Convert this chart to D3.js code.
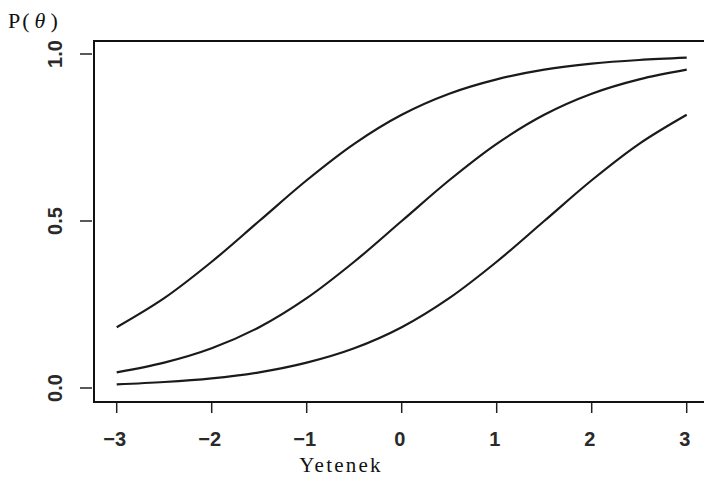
<!DOCTYPE html>
<html><head><meta charset="utf-8">
<script src="https://cdn.jsdelivr.net/npm/d3@7"></script>
<style>body{margin:0;background:#fff}svg{display:block}</style>
</head><body>
<svg id="chart" width="704" height="480"></svg>
<script>
const theta = [-3,-2.5,-2,-1.5,-1,-0.5,0,0.5,1,1.5,2,2.5,3];
const itemEasy = [0.182,0.269,0.378,0.500,0.622,0.731,0.818,0.881,0.924,0.953,0.971,0.982,0.989];
const itemMedium = [0.047,0.076,0.119,0.182,0.269,0.378,0.500,0.622,0.731,0.818,0.881,0.924,0.953];
const itemHard = [0.011,0.018,0.029,0.047,0.076,0.119,0.182,0.269,0.378,0.500,0.622,0.731,0.818];
const xTicks = [-3,-2,-1,0,1,2,3];
const yTicks = [0,0.5,1];
const yTickLabels = ["0.0","0.5","1.0"];

const svg = d3.select("#chart");
const x = d3.scaleLinear().domain([-3,3]).range([116.7,686.7]);
const y = d3.scaleLinear().domain([0,1]).range([388,54]);

// frame: top, left, bottom
const fLeft = 94, fTop = 41, fBottom = 402, fRight = 706;
svg.append("path").attr("d",`M${fRight},${fTop}H${fLeft}V${fBottom}H${fRight}`)
  .attr("fill","none").attr("stroke","#111").attr("stroke-width",2);

// x ticks
const fmt = v => v < 0 ? "\u2212" + Math.abs(v) : String(v);
const xg = svg.append("g");
xTicks.forEach(t => {
  xg.append("line").attr("x1",x(t)).attr("x2",x(t)).attr("y1",fBottom+1).attr("y2",fBottom+11)
    .attr("stroke","#222").attr("stroke-width",1.5);
  xg.append("text").attr("x",x(t)-2).attr("y",446).attr("text-anchor","middle")
    .attr("font-family","Liberation Sans, Arial, sans-serif").attr("font-size",20).attr("font-weight","bold")
    .attr("fill","#2a2a2a").text(fmt(t));
});
// y ticks
const yg = svg.append("g");
yTicks.forEach((t,i) => {
  yg.append("line").attr("x1",80).attr("x2",92).attr("y1",y(t)).attr("y2",y(t))
    .attr("stroke","#222").attr("stroke-width",1.5);
  yg.append("text").attr("transform",`translate(62,${y(t)}) rotate(-90)`).attr("text-anchor","middle")
    .attr("font-family","Liberation Sans, Arial, sans-serif").attr("font-size",20).attr("font-weight","bold")
    .attr("fill","#2a2a2a").text(yTickLabels[i]);
});

// axis titles
svg.append("text").attr("x",341).attr("y",472).attr("text-anchor","middle")
  .attr("font-family","Liberation Serif, Times New Roman, serif").attr("font-size",21)
  .attr("letter-spacing","2.2px").attr("fill","#111").text("Yetenek");
const pt = svg.append("text").attr("x",8).attr("y",28)
  .attr("font-family","Liberation Serif, Times New Roman, serif").attr("font-size",22).attr("fill","#111");
pt.append("tspan").text("P");
pt.append("tspan").attr("dx",2).text("(");
pt.append("tspan").attr("font-style","italic").attr("dx",5).text("θ");
pt.append("tspan").attr("dx",5).text(")");

// curves
const line = d3.line().x((d,i)=>x(theta[i])).y(d=>y(d)).curve(d3.curveCatmullRom.alpha(0.5));
[itemEasy,itemMedium,itemHard].forEach(s => {
  svg.append("path").datum(s).attr("d",line).attr("fill","none")
    .attr("stroke","#1a1a1a").attr("stroke-width",2.2);
});
</script>
</body></html>
